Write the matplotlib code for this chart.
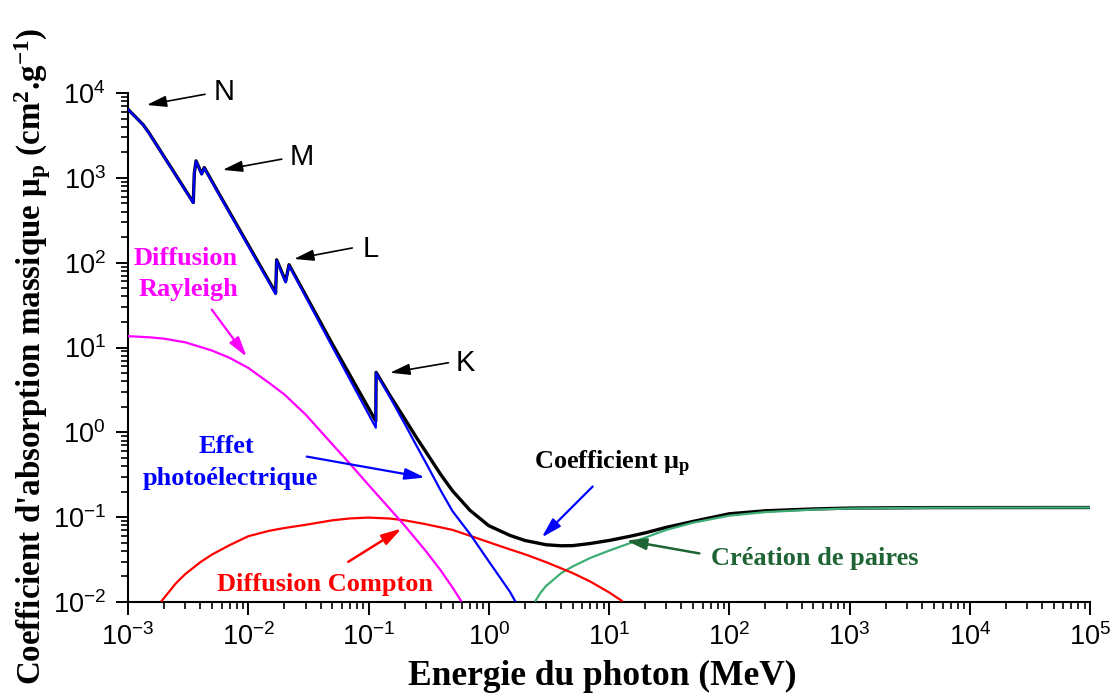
"""Mass attenuation coefficient of uranium versus photon energy, with the partial processes."""

import matplotlib
import matplotlib.pyplot as plt
import numpy as np
from matplotlib.ticker import LogLocator

matplotlib.use("Agg")

plt.rcParams["font.family"] = "Liberation Sans"
plt.rcParams["mathtext.default"] = "regular"
plt.rcParams["axes.unicode_minus"] = False

SERIF = "Liberation Serif"

# Total coefficient mu_p (cm2/g)
total_energy = [1.00e-3, 1.34e-3, 1.50e-3, 3.49e-3, 3.56e-3, 3.68e-3, 4.10e-3, 4.31e-3,
                5.47e-3, 1.690e-2, 1.722e-2, 2.046e-2, 2.183e-2, 5.0e-2, 1.150e-1,
                1.156e-1, 0.15, 0.2, 0.25, 0.3, 0.4, 0.5, 0.7, 1.0, 1.5, 2, 3, 4, 5, 7,
                10, 15, 20, 30, 50, 100, 200, 500, 1e3, 5e3, 1e5]
total_mu = [6430, 4210, 3360, 512, 1135, 1585, 1115, 1320,
            723, 44.1, 108, 60.3, 94.6, 11.0, 1.36,
            5.10, 2.75, 1.445, 0.871, 0.589, 0.316, 0.204, 0.120, 0.0794, 0.0610,
            0.0531, 0.0473, 0.0460, 0.0462, 0.0490,
            0.0531, 0.0596, 0.0653, 0.0759, 0.0891, 0.1096, 0.1189, 0.125, 0.128, 0.1297, 0.130]

# Photoelectric effect
photo_energy = [1.00e-3, 1.34e-3, 1.50e-3, 3.49e-3, 3.56e-3, 3.68e-3, 4.10e-3, 4.31e-3,
                5.47e-3, 1.690e-2, 1.722e-2, 2.046e-2, 2.183e-2, 5.0e-2, 1.150e-1,
                1.156e-1, 0.15, 0.2, 0.25, 0.3, 0.4, 0.5, 0.7, 1.0, 1.5, 1.65]
photo_mu = [6400, 4190, 3340, 505, 1120, 1570, 1100, 1305,
            710, 42.5, 106, 58.5, 92.5, 10.2, 1.135,
            5.00, 2.63, 1.26, 0.70, 0.437, 0.204, 0.1175, 0.063, 0.0302, 0.0132, 0.01035]

# Rayleigh scattering
rayleigh_energy = [1.0e-3, 1.5e-3, 2e-3, 3e-3, 5e-3, 7e-3, 1e-2, 1.5e-2, 2e-2, 3e-2,
                   5e-2, 7e-2, 0.1, 0.15, 0.2, 0.3, 0.4, 0.5, 0.5875]
rayleigh_mu = [13.6, 13.2, 12.7, 11.5, 9.2, 7.55, 5.75, 3.8, 2.79, 1.62,
               0.724, 0.427, 0.24, 0.126, 0.0794, 0.0398, 0.0234, 0.0148, 0.01035]

# Compton scattering
compton_energy = [1.91e-3, 2e-3, 2.5e-3, 3e-3, 4e-3, 5e-3, 7e-3, 1e-2, 1.5e-2, 2e-2,
                  3e-2, 5e-2, 7e-2, 0.1, 0.15, 0.2, 0.3, 0.5, 0.7, 1.0, 1.5, 2, 3, 5, 7,
                  10, 12.75]
compton_mu = [0.01035, 0.0112, 0.0166, 0.0214, 0.0295, 0.0363, 0.0468, 0.0596, 0.0692, 0.0745,
              0.0813, 0.0918, 0.0966, 0.0989, 0.0964, 0.0918, 0.0826, 0.0708, 0.0603, 0.0507,
              0.0417, 0.0365, 0.0295, 0.0219, 0.0174, 0.0130, 0.01035]

# Pair production
pair_energy = [2.45, 2.7, 3, 4, 5, 7, 10, 15, 20, 30, 50, 100, 200, 500, 1e3, 5e3, 1e5]
pair_mu = [0.01035, 0.0129, 0.0155, 0.0219, 0.0263, 0.0331, 0.0403, 0.0495, 0.0575,
           0.0708, 0.0861, 0.1042, 0.1148, 0.1227, 0.1265, 0.1291, 0.130]

BLUE = "#0000ff"
MAGENTA = "#ff00ff"
RED = "#ff0000"
GREEN_LINE = "#3cae74"
GREEN_TEXT = "#1e6434"

fig = plt.figure(figsize=(11.15, 6.95), dpi=100)
ax = fig.add_axes([0.1148, 0.1338, 0.8628, 0.7324])
ax.set_xscale("log")
ax.set_yscale("log")
ax.set_xlim(1e-3, 1e5)
ax.set_ylim(1e-2, 1e4)

ax.plot(total_energy, total_mu, color="black", lw=2.4, zorder=3)
ax.plot(pair_energy, pair_mu, color=GREEN_LINE, lw=1.6, zorder=3)
ax.plot(compton_energy, compton_mu, color=RED, lw=1.6, zorder=3)
ax.plot(rayleigh_energy, rayleigh_mu, color=MAGENTA, lw=1.6, zorder=3)
ax.plot(photo_energy, photo_mu, color=BLUE, lw=1.6, zorder=4)

for side in ("top", "right"):
    ax.spines[side].set_visible(False)
for side in ("left", "bottom"):
    ax.spines[side].set_linewidth(1.5)

for axis in (ax.xaxis, ax.yaxis):
    axis.set_major_locator(LogLocator(base=10, numticks=20))
    axis.set_minor_locator(LogLocator(base=10, subs=np.arange(2, 10), numticks=200))
ax.tick_params(which="major", direction="out", length=9, width=1.4, labelsize=19.5)
ax.tick_params(axis="x", which="major", pad=6)
ax.tick_params(axis="y", which="major", pad=7)
ax.tick_params(which="minor", direction="out", length=5, width=1.2)


def arrow(tip, tail, color, lw=1.2):
    ax.annotate("", xy=tip, xytext=tail, annotation_clip=False,
                arrowprops=dict(arrowstyle="-|>,head_length=0.6,head_width=0.17",
                                color=color, lw=lw, mutation_scale=20,
                                shrinkA=0, shrinkB=0))


# absorption edges
edge_labels = [("N", 6.28e-3, 8.28e3, (1.43e-3, 7.22e3), (4.37e-3, 9.66e3)),
               ("M", 2.81e-2, 1.42e3, (6.13e-3, 1.24e3), (1.90e-2, 1.66e3)),
               ("L", 1.05e-1, 115.5, (2.40e-2, 110.5), (7.33e-2, 149)),
               ("K", 6.35e-1, 5.22, (1.51e-1, 5.04), (4.615e-1, 6.61))]
for label, ex, ey, tip, tail in edge_labels:
    ax.text(ex, ey, label, fontsize=21, ha="center", va="baseline")
    arrow(tip, tail, "black")

serif_bold = dict(family=SERIF, weight="bold", fontsize=19)

ax.text(3.03e-3, 94.6, "Diffusion", color=MAGENTA, ha="center", va="baseline", **serif_bold)
ax.text(3.21e-3, 40.4, "Rayleigh", color=MAGENTA, ha="center", va="baseline", **serif_bold)
arrow((9.7e-3, 7.77), (4.97e-3, 28.0), MAGENTA, lw=1.6)

ax.text(6.59e-3, 0.577, "Effet", color=BLUE, ha="center", va="baseline", **serif_bold)
ax.text(7.05e-3, 0.2377, "photoélectrique", color=BLUE, ha="center", va="baseline", **serif_bold)
arrow((0.295, 0.293), (0.0306, 0.518), BLUE, lw=1.6)

ax.text(2.38, 0.367, r"Coefficient $μ_p$", color="black", ha="left", va="baseline", **serif_bold)
arrow((2.755, 0.0577), (7.31, 0.2296), BLUE, lw=1.6)

ax.text(0.04345, 0.01364, "Diffusion Compton", color=RED, ha="center", va="baseline", **serif_bold)
arrow((0.1888, 0.0736), (0.0679, 0.0298), RED, lw=1.8)

ax.text(70.5, 0.02748, "Création de paires", color=GREEN_TEXT, ha="left", va="baseline", **serif_bold)
arrow((13.84, 0.0532), (56.4, 0.0374), GREEN_TEXT, lw=1.8)

fig.text(602 / 1115, 1 - 685 / 695, "Energie du photon (MeV)", family=SERIF,
         weight="bold", fontsize=25.5, ha="center", va="baseline")
fig.text(33 / 1115, 1 - 356 / 695,
         r"Coefficient d'absorption massique $μ_p$ (cm$^2$.g$^{-1}$)",
         family=SERIF, weight="bold", fontsize=23.8, rotation=90,
         ha="center", va="center")

fig.savefig("out.png", dpi=100)
